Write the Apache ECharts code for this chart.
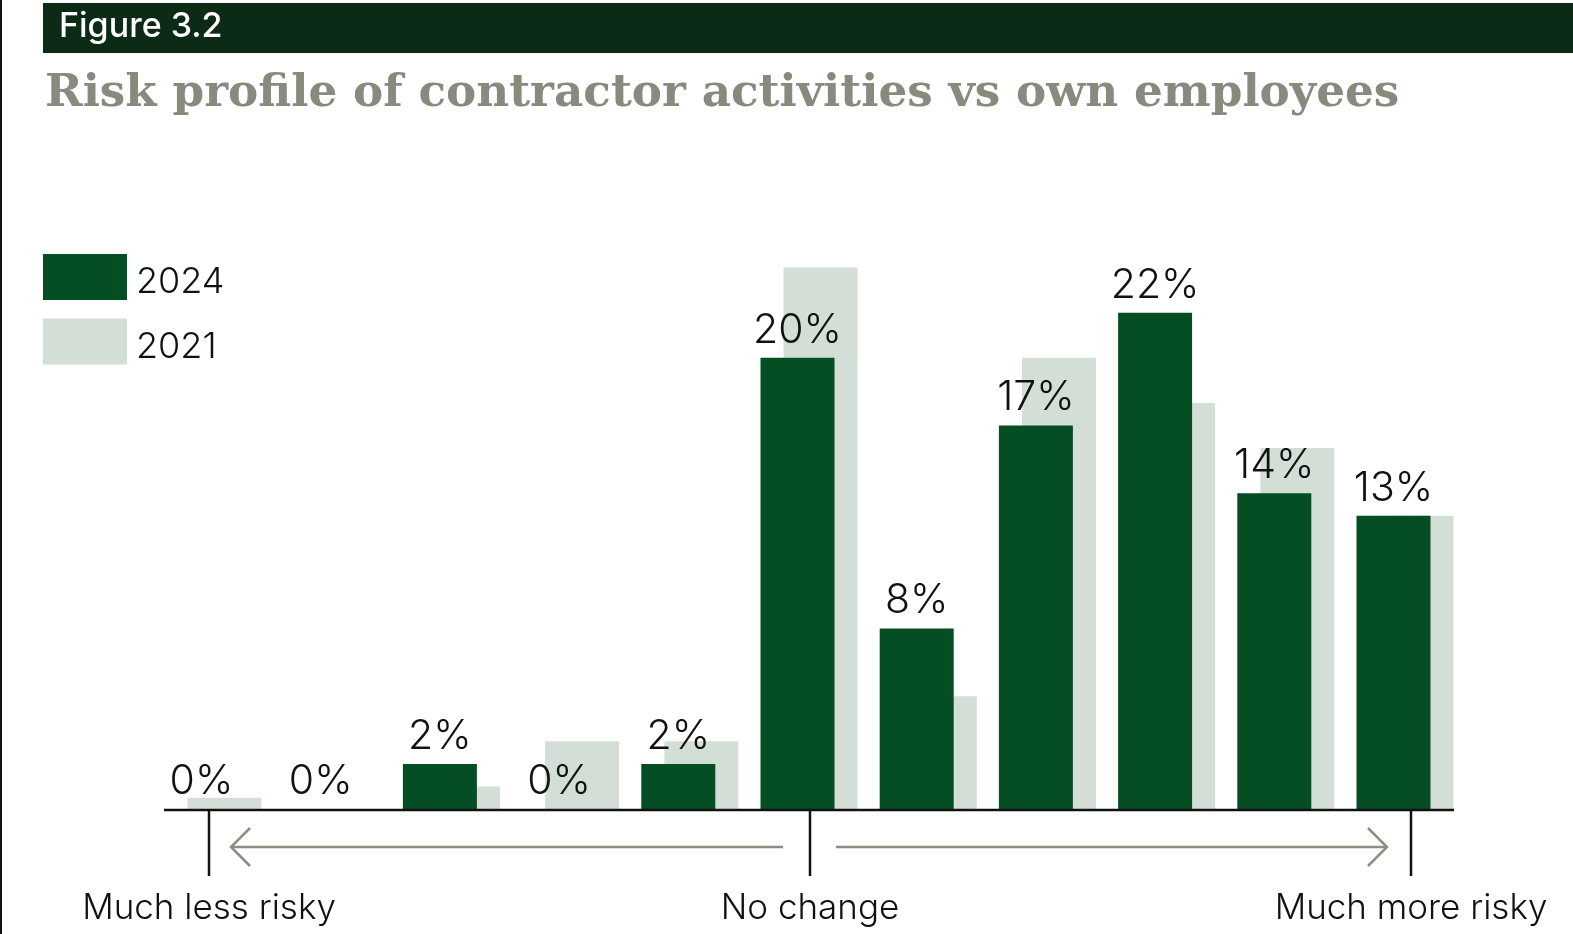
<!DOCTYPE html>
<html>
<head>
<meta charset="utf-8">
<title>Figure 3.2 — Risk profile of contractor activities vs own employees</title>
<script src="https://cdn.jsdelivr.net/npm/echarts@6/dist/echarts.min.js"></script>
<style>
  html, body { margin: 0; padding: 0; background: #ffffff; }
  #chart { width: 1573px; height: 934px; }
</style>
</head>
<body>
<div id="chart"></div>
<script>
// Eleven-point scale from "Much less risky" (0) to "Much more risky" (10)
const categories = ['0', '1', '2', '3', '4', '5', '6', '7', '8', '9', '10'];
// Share of respondents, in percent
const values2024 = [0, 0, 2, 0, 2, 20, 8, 17, 22, 14, 13];
const values2021 = [0.5, 0, 1, 3, 3, 24, 5, 20, 18, 16, 13];
const seriesNames = ['2024', '2021'];
const scaleLabels = ['Much less risky', 'No change', 'Much more risky'];

const DARK = '#054d22';
const LIGHT = '#d3dfd6';
const ARROW = '#8a8f82';
const FONT = 'Inter, "Noto Sans", sans-serif';

const chart = echarts.init(document.getElementById('chart'), null, { renderer: 'canvas' });

const option = {
  backgroundColor: '#ffffff',
  animation: false,
  textStyle: { fontFamily: FONT },
  grid: { left: 153.4, right: 108.4, top: 245, bottom: 125, containLabel: false },
  legend: {
    data: seriesNames,
    orient: 'vertical',
    left: 38,
    top: 249,
    itemWidth: 84,
    itemHeight: 46,
    itemGap: 18,
    icon: 'rect',
    selectedMode: false,
    formatter: '{t|{name}}',
    textStyle: {
      fontFamily: FONT,
      fontSize: 36,
      fontWeight: 300,
      color: '#111',
      rich: {
        t: { fontFamily: FONT, fontSize: 36, fontWeight: 300, color: '#111', padding: [11, 0, 0, 4] }
      }
    }
  },
  xAxis: {
    type: 'category',
    data: categories,
    axisLine: { show: false },
    axisTick: { show: false },
    axisLabel: { show: false }
  },
  yAxis: {
    type: 'value',
    min: 0,
    max: 25,
    show: false,
    splitLine: { show: false }
  },
  series: [
    {
      name: seriesNames[0],
      type: 'bar',
      data: values2024,
      barWidth: 74,
      barGap: '-68.9%',
      z: 3,
      itemStyle: { color: DARK },
      label: {
        show: true,
        position: 'top',
        distance: 7,
        formatter: p => p.value + '%',
        fontFamily: FONT,
        fontSize: 41,
        fontWeight: 300,
        color: '#111'
      }
    },
    {
      name: seriesNames[1],
      type: 'bar',
      data: values2021,
      barWidth: 74,
      z: 2,
      itemStyle: { color: LIGHT }
    }
  ]
};

chart.setOption(option);

// Annotation layer: header, title, baseline, scale ticks, arrows and scale labels
const baseY = 810;
const tickX = [209, 810, 1411];
const arrowY = 847;

const graphics = [
  { type: 'rect', shape: { x: 0, y: 0, width: 2, height: 934 }, style: { fill: '#111' }, z: 10 },
  { type: 'rect', shape: { x: 43, y: 3, width: 1530, height: 50 }, style: { fill: '#0b2b17' }, z: 10 },
  {
    type: 'text', x: 59, y: 27, z: 11,
    style: { text: 'Figure 3.2', fill: '#ffffff', font: '500 34px ' + FONT, textVerticalAlign: 'middle' }
  },
  {
    type: 'text', x: 45, y: 94, z: 11,
    style: {
      text: 'Risk profile of contractor activities vs own employees',
      fill: '#868b7e',
      font: 'bold 45.3px "DejaVu Serif", serif',
      textVerticalAlign: 'middle'
    }
  },
  { type: 'line', shape: { x1: 164, y1: baseY, x2: 1454, y2: baseY }, style: { stroke: '#111', lineWidth: 2.5 }, z: 10 }
];

tickX.forEach((x, i) => {
  graphics.push({ type: 'line', shape: { x1: x, y1: baseY, x2: x, y2: 876 }, style: { stroke: '#111', lineWidth: 2.5 }, z: 10 });
  graphics.push({
    type: 'text', x: x, y: 908, z: 11,
    style: { text: scaleLabels[i], fill: '#111', font: '300 35px ' + FONT, textAlign: 'center', textVerticalAlign: 'middle' }
  });
});

// Left arrow (towards less risky)
graphics.push({ type: 'line', shape: { x1: 231, y1: arrowY, x2: 783, y2: arrowY }, style: { stroke: ARROW, lineWidth: 2.5 }, z: 10 });
graphics.push({ type: 'polyline', shape: { points: [[250, 828], [231, arrowY], [250, 866]] }, style: { stroke: ARROW, lineWidth: 2.5, fill: 'none' }, z: 10 });
// Right arrow (towards more risky)
graphics.push({ type: 'line', shape: { x1: 836, y1: arrowY, x2: 1387, y2: arrowY }, style: { stroke: ARROW, lineWidth: 2.5 }, z: 10 });
graphics.push({ type: 'polyline', shape: { points: [[1368, 828], [1387, arrowY], [1368, 866]] }, style: { stroke: ARROW, lineWidth: 2.5, fill: 'none' }, z: 10 });

chart.setOption({ graphic: graphics });
</script>
</body>
</html>
